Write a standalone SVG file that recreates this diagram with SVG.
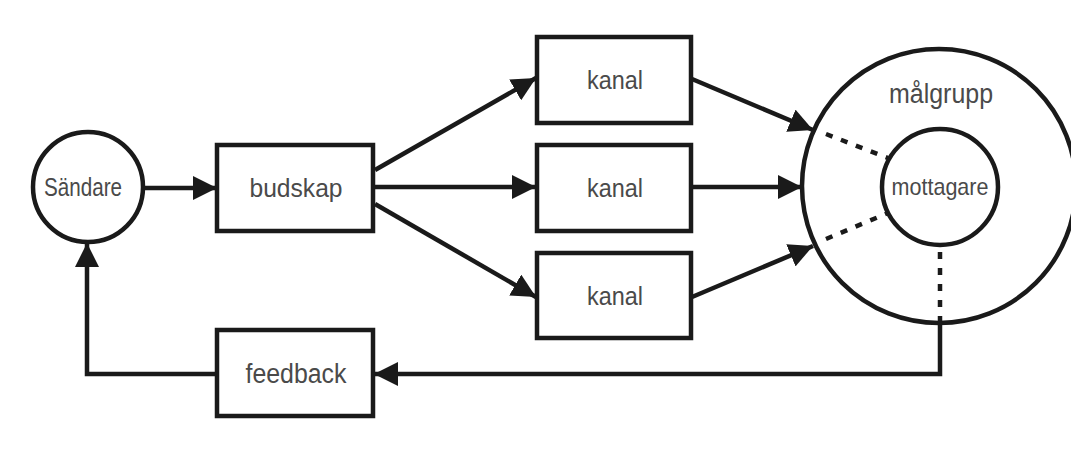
<svg xmlns="http://www.w3.org/2000/svg" width="1071" height="450" viewBox="0 0 1071 450">
<defs>
<marker id="ah" markerUnits="userSpaceOnUse" markerWidth="26" markerHeight="24" refX="24" refY="12" orient="auto">
<path d="M0,0 L24,12 L0,24 Z" fill="#1a1a1a"/>
</marker>
<style>
.box{fill:#fff;stroke:#1a1a1a;stroke-width:4.5}
.circ{fill:#fff;stroke:#1a1a1a;stroke-width:4.5}
.ln{fill:none;stroke:#1a1a1a;stroke-width:4.5}
.dot{fill:none;stroke:#1a1a1a;stroke-width:4.5;stroke-dasharray:7 9}
.t{font-family:"Liberation Sans",Arial,sans-serif;fill:#4a4a4a;text-anchor:middle}
</style>
</defs>
<rect width="1071" height="450" fill="#fff"/>
<g id="malgrupp">
<circle class="circ" cx="939" cy="186" r="137"/>
<text class="t" x="941" y="103" font-size="27" textLength="104" lengthAdjust="spacingAndGlyphs">målgrupp</text>
</g>
<g id="mottagare">
<circle class="circ" cx="940" cy="187" r="58"/>
<text class="t" x="940" y="195" font-size="24" textLength="97" lengthAdjust="spacingAndGlyphs">mottagare</text>
</g>
<g id="sandare">
<circle class="circ" cx="88" cy="187" r="55"/>
<text class="t" x="83" y="196" font-size="25" textLength="78" lengthAdjust="spacingAndGlyphs">Sändare</text>
</g>
<g id="budskap">
<rect class="box" x="217" y="145" width="156" height="86"/>
<text class="t" x="296" y="197" font-size="26" textLength="93" lengthAdjust="spacingAndGlyphs">budskap</text>
</g>
<g id="kanal1">
<rect class="box" x="537" y="37" width="154" height="86"/>
<text class="t" x="615" y="89" font-size="26" textLength="56" lengthAdjust="spacingAndGlyphs">kanal</text>
</g>
<g id="kanal2">
<rect class="box" x="537" y="145" width="154" height="86"/>
<text class="t" x="615" y="197" font-size="26" textLength="56" lengthAdjust="spacingAndGlyphs">kanal</text>
</g>
<g id="kanal3">
<rect class="box" x="537" y="253" width="154" height="85"/>
<text class="t" x="615" y="305" font-size="26" textLength="56" lengthAdjust="spacingAndGlyphs">kanal</text>
</g>
<g id="feedback">
<rect class="box" x="217" y="330" width="156" height="86"/>
<text class="t" x="296" y="383" font-size="27" textLength="101" lengthAdjust="spacingAndGlyphs">feedback</text>
</g>
<g id="connectors">
<line class="ln" x1="144" y1="188" x2="217" y2="188" marker-end="url(#ah)"/>
<line class="ln" x1="375" y1="170" x2="536" y2="78" marker-end="url(#ah)"/>
<line class="ln" x1="375" y1="187" x2="536" y2="187" marker-end="url(#ah)"/>
<line class="ln" x1="375" y1="204" x2="536" y2="297" marker-end="url(#ah)"/>
<line class="ln" x1="692" y1="79" x2="813" y2="130" marker-end="url(#ah)"/>
<line class="ln" x1="692" y1="187" x2="802" y2="187" marker-end="url(#ah)"/>
<line class="ln" x1="692" y1="297" x2="813" y2="246" marker-end="url(#ah)"/>
<line class="dot" x1="826" y1="134" x2="888" y2="158"/>
<line class="dot" x1="826" y1="239" x2="888" y2="213"/>
<line class="dot" x1="940" y1="252" x2="940" y2="322"/>
<polyline class="ln" points="940,322 940,374 374,374" marker-end="url(#ah)"/>
<polyline class="ln" points="217,374 87,374 87,243" marker-end="url(#ah)"/>
</g>
</svg>
